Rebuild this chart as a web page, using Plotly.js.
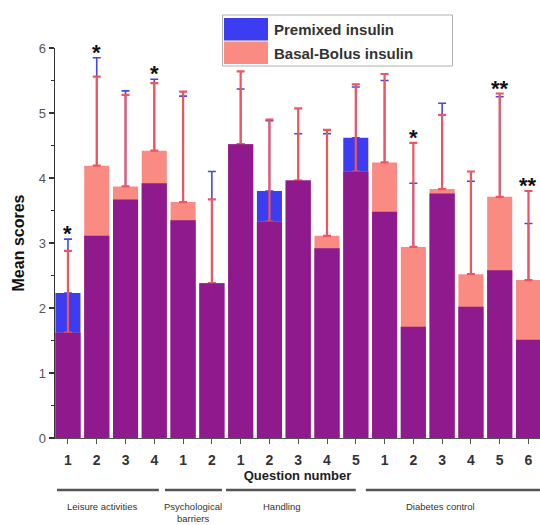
<!DOCTYPE html>
<html><head><meta charset="utf-8">
<script src="https://cdn.plot.ly/plotly-3.0.1.min.js"></script>
<style>html,body{margin:0;padding:0;background:#fff}#chart{width:540px;height:525px}</style>
</head><body><div id="chart"></div>
<script>
// ---- data ----
const questionLabels = ["1","2","3","4","1","2","1","2","3","4","5","1","2","3","4","5","6"];
const premixedMean   = [2.23,3.11,3.67,3.92,3.35,2.38,4.52,3.80,3.96,2.92,4.62,3.48,1.71,3.76,2.02,2.58,1.51];
const premixedErr    = [0.83,2.74,1.67,1.60,1.91,1.72,0.85,1.08,0.72,1.76,0.78,2.02,2.21,1.39,1.93,2.67,1.79];
const basalBolusMean = [1.62,4.19,3.87,4.42,3.63,2.38,4.52,3.33,3.96,3.11,4.10,4.24,2.94,3.83,2.52,3.71,2.43];
const basalBolusErr  = [1.26,1.37,1.41,1.04,1.70,1.29,1.12,1.57,1.11,1.63,1.34,1.36,1.60,1.14,1.58,1.59,1.37];
const significance   = ["*","*","","*","","","","","","","","","*","","","**","**"];
const groupNames     = ["Leisure activities","Psychological<br>barriers","Handling","Diabetes control"];
const groupSizes     = [4,2,5,6];
const seriesNames    = ["Premixed insulin","Basal-Bolus insulin"];

// ---- styling / layout constants ----
const W = 540, H = 525, ML = 55, MR = 0, MT = 48, MB = 87;
const XR = [-0.45, 16.4];
const BLUE = '#3c3cf0', SALMON = '#f98b82', PURPLE = '#8e1a8e';
const FONT = '"Liberation Sans", Arial, sans-serif';
const groupLinePad = [[-0.38,0.16],[-0.63,0.35],[-0.51,0.0],[-0.65,0.6]];
const groupLabelShift = [-0.3,-0.15,-0.55,-0.55];

const plotW = W - ML - MR, plotH = H - MT - MB;
const px2x = px => (px - ML) / plotW;
const py2y = py => (H - MB - py) / plotH;
const idx2x = i => (i - XR[0]) / (XR[1] - XR[0]);

const xIdx = questionLabels.map((_, i) => i);
const overlap = premixedMean.map((v, i) => Math.min(v, basalBolusMean[i]));

const traces = [
  { type:'bar', x:xIdx, y:premixedMean, name:seriesNames[0], marker:{color:BLUE, line:{width:0}},
    error_y:{type:'data', array:premixedErr, arrayminus:premixedErr.map(()=>0), symmetric:false,
             color:'#4646e6', thickness:1.6, width:4}, showlegend:false, hoverinfo:'y' },
  { type:'bar', x:xIdx, y:basalBolusMean, name:seriesNames[1], marker:{color:SALMON, line:{width:0}},
    error_y:{type:'data', array:basalBolusErr, arrayminus:basalBolusErr.map(()=>0), symmetric:false,
             color:'#ef5560', thickness:2.2, width:4}, showlegend:false, hoverinfo:'y' },
  { type:'bar', x:xIdx, y:overlap, name:'overlap', marker:{color:PURPLE, line:{width:0}},
    showlegend:false, hoverinfo:'skip' }
];

const annotations = [];
const shapes = [];

// significance stars
significance.forEach((s, i) => {
  if (!s) return;
  const top = Math.max(premixedMean[i] + premixedErr[i], basalBolusMean[i] + basalBolusErr[i]);
  annotations.push({ x:i, y:top, xref:'x', yref:'y', text:s, showarrow:false, yanchor:'bottom',
    yshift:-9, font:{family:FONT, size:22, color:'#111', weight:'bold'} });
});

// group lines & labels
let start = 0;
groupSizes.forEach((n, g) => {
  const end = start + n - 1;
  const x0 = Math.max(0, idx2x(start + groupLinePad[g][0]));
  const x1 = Math.min(1, idx2x(end + groupLinePad[g][1]));
  shapes.push({ type:'line', xref:'paper', yref:'paper', x0:x0, x1:x1, y0:py2y(490), y1:py2y(490),
    line:{color:'#555', width:2.5} });
  annotations.push({ x:idx2x((start + end) / 2 + groupLabelShift[g]), y:py2y(499), xref:'paper', yref:'paper',
    text:groupNames[g], showarrow:false, yanchor:'top', xanchor:'center',
    font:{family:FONT, size:9.5, color:'#333'} });
  start = end + 1;
});

// legend (drawn as a boxed key)
shapes.push({ type:'rect', xref:'paper', yref:'paper', x0:px2x(222.5), x1:px2x(452.5), y0:py2y(15), y1:py2y(66),
  line:{color:'#b0b0b0', width:1}, fillcolor:'#fff' });
shapes.push({ type:'rect', xref:'paper', yref:'paper', x0:px2x(224), x1:px2x(268), y0:py2y(18), y1:py2y(40.5),
  line:{width:0}, fillcolor:BLUE });
shapes.push({ type:'rect', xref:'paper', yref:'paper', x0:px2x(224), x1:px2x(268), y0:py2y(41.5), y1:py2y(64),
  line:{width:0}, fillcolor:SALMON });
[[seriesNames[0], 30], [seriesNames[1], 53.5]].forEach(([t, py]) => {
  annotations.push({ x:px2x(272), y:py2y(py), xref:'paper', yref:'paper', text:t, showarrow:false,
    xanchor:'left', yanchor:'middle', font:{family:FONT, size:15, color:'#333', weight:'bold'} });
});

const layout = {
  width:W, height:H, margin:{l:ML, r:MR, t:MT, b:MB, pad:0},
  paper_bgcolor:'#fff', plot_bgcolor:'#fff',
  barmode:'overlay', bargap:0.13, showlegend:false,
  font:{family:FONT, color:'#333'},
  xaxis:{ range:XR, tickvals:xIdx, ticktext:questionLabels, showgrid:false, zeroline:false,
    showline:true, linecolor:'#555', linewidth:1, ticks:'outside', ticklen:5, tickcolor:'#555',
    ticklabelstandoff:4, tickfont:{family:FONT, size:14, color:'#333', weight:'bold'},
    title:{text:'Question number', standoff:2, font:{family:FONT, size:13, color:'#222', weight:'bold'}},
    fixedrange:true, automargin:false },
  yaxis:{ range:[0,6], dtick:1, showgrid:false, zeroline:false, showline:true, linecolor:'#333', linewidth:1.4,
    ticks:'outside', ticklen:5, tickcolor:'#333', tickwidth:1.2,
    minor:{dtick:0.5, ticks:'outside', ticklen:3, tickcolor:'#333', showgrid:false},
    tickfont:{family:FONT, size:13, color:'#555'},
    title:{text:'Mean scores', standoff:10, font:{family:FONT, size:16, color:'#111', weight:'bold'}},
    fixedrange:true, automargin:false },
  annotations:annotations, shapes:shapes
};

Plotly.newPlot('chart', traces, layout, {displayModeBar:false, staticPlot:true});
</script></body></html>
